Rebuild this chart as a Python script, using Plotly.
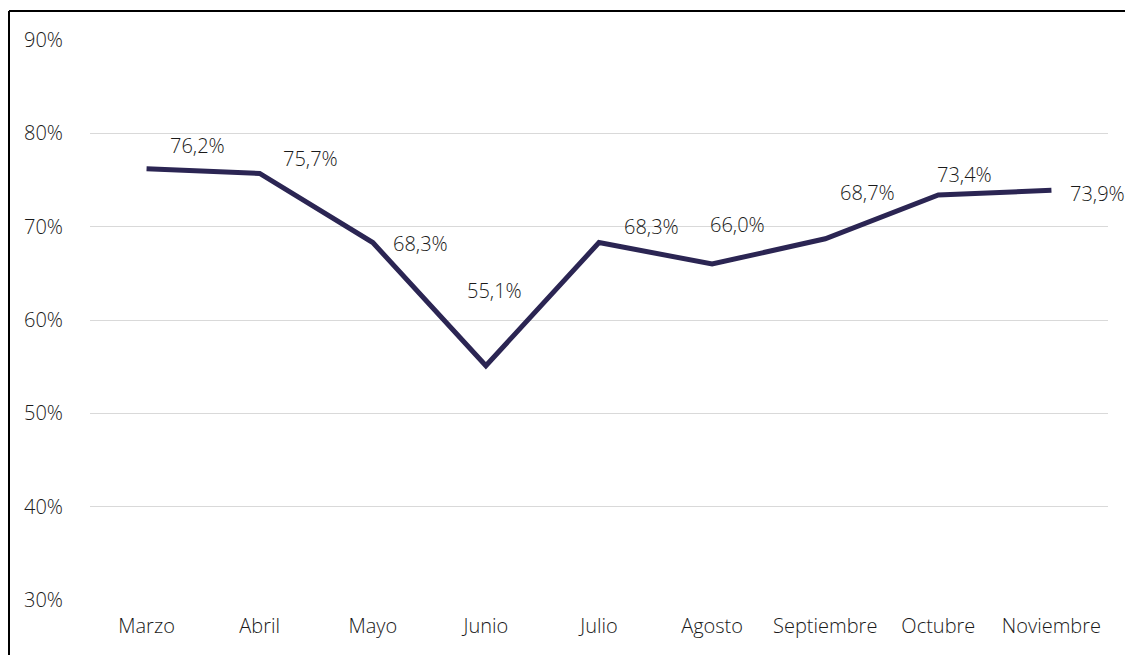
import plotly.graph_objects as go

months = ["Marzo", "Abril", "Mayo", "Junio", "Julio", "Agosto", "Septiembre", "Octubre", "Noviembre"]
values = [76.2, 75.7, 68.3, 55.1, 68.3, 66.0, 68.7, 73.4, 73.9]
labels = ["76,2%", "75,7%", "68,3%", "55,1%", "68,3%", "66,0%", "68,7%", "73,4%", "73,9%"]
y_ticks = [30, 40, 50, 60, 70, 80, 90]
y_tick_text = ["30%", "40%", "50%", "60%", "70%", "80%", "90%"]

# label offsets in pixels (x, y) relative to each point
label_offsets = [(51, 23), (51, 15), (48, -1), (9, 75), (52, 16), (25, 40), (42, 46), (26, 20), (46, -3)]

FONT = "Open Sans"
FS = 20
TXT = "#1A1A1A"
# page body has an 8px margin, so the figure is 8px smaller than the window
W, H = 1125, 647
L, R, T, B = 82, 25, 32, 55

fig = go.Figure()
fig.add_trace(go.Scatter(
    x=months, y=values, mode="lines",
    line=dict(color="#2B2553", width=5),
    hoverinfo="skip", showlegend=False,
))

for m, v, t, (dx, dy) in zip(months, values, labels, label_offsets):
    fig.add_annotation(x=m, y=v, text=t, showarrow=False, xshift=dx, yshift=dy,
                       font=dict(family=FONT, size=FS, color=TXT, weight=300))

pw = W - L - R
ph = H - T - B
bx = (1 - L) / pw
by = 1 + (T - 3) / ph
fig.add_shape(type="line", xref="paper", yref="paper", x0=bx, x1=(W + 10 - L) / pw, y0=by, y1=by,
              line=dict(color="black", width=2))
fig.add_shape(type="line", xref="paper", yref="paper", x0=bx, x1=bx, y0=by, y1=-(B + 10) / ph,
              line=dict(color="black", width=2))

fig.update_layout(
    width=W, height=H,
    margin=dict(l=L, r=R, t=T, b=B, autoexpand=False),
    paper_bgcolor="white", plot_bgcolor="white",
    font=dict(family=FONT, size=FS, color=TXT, weight=300),
    xaxis=dict(range=[-0.5, len(months) - 0.5], showgrid=False, showline=False, ticks="",
               ticklabelstandoff=12, automargin=False,
               tickfont=dict(family=FONT, size=FS, color=TXT, weight=300)),
    yaxis=dict(range=[30, 90], tickvals=y_ticks, ticktext=y_tick_text,
               showgrid=True, gridcolor="#D9D9D9", gridwidth=1.3, zeroline=False,
               showline=False, ticks="", ticklabelstandoff=26, automargin=False,
               tickfont=dict(family=FONT, size=FS, color=TXT, weight=300)),
)

fig.write_html("out.html")
